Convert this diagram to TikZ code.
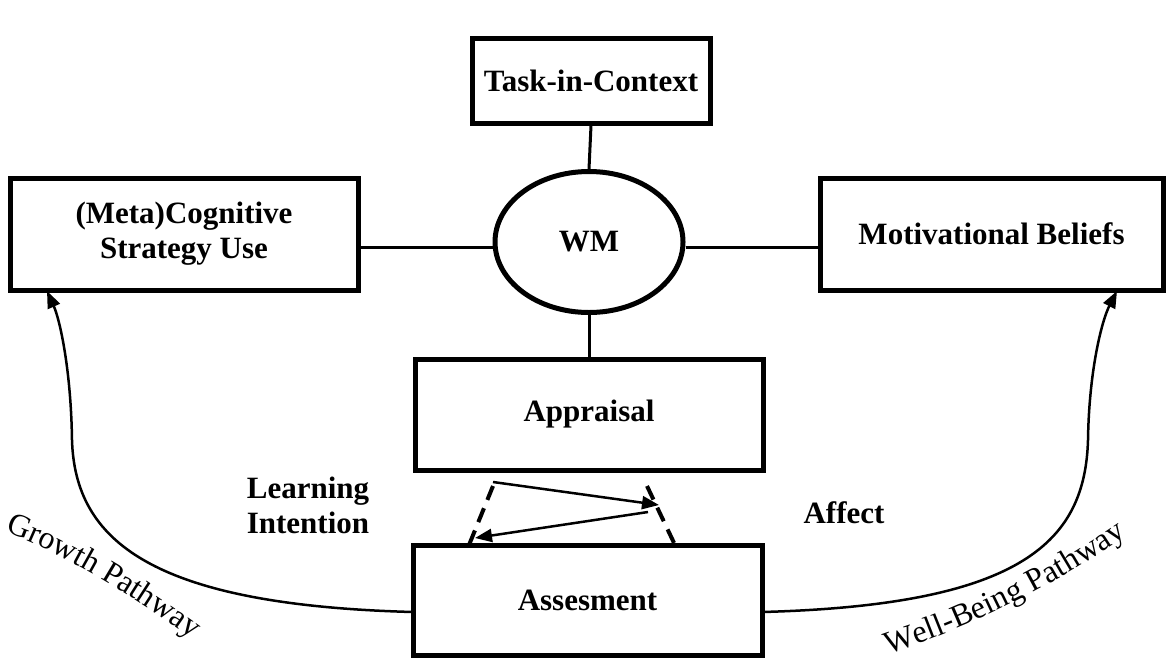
\documentclass[tikz,border=0pt]{standalone}
\usepackage{fontspec}
\setmainfont{Liberation Serif}
\usetikzlibrary{arrows.meta,decorations.text,shapes.geometric}
\begin{document}
\begin{tikzpicture}[x=1pt,y=-1pt,
  lbl/.style={font=\fontsize{31}{35}\selectfont\bfseries,align=center},
  box/.style={draw,line width=5pt,rectangle,inner sep=0pt,lbl},
  link/.style={line width=3pt},
  tipline/.style={line width=2.5pt,-{Triangle[length=17pt,width=13pt]}},
  dashline/.style={line width=4pt,dash pattern=on 15pt off 9pt},
  path text/.style={decorate,decoration={text along path,text align=left,
     text={|\fontsize{32}{34}\selectfont|#1}}}]
\useasboundingbox (0,0) rectangle (1166,664);
\fill[white] (0,0) rectangle (1166,664);

\node[box,minimum width=238pt,minimum height=85pt] (task) at (591,80.5) {Task-in-Context};
\node[box,minimum width=348pt,minimum height=112pt] (left) at (184,234) {(Meta)Cognitive\\Strategy Use};
\node[box,minimum width=343pt,minimum height=112pt] (right) at (991.5,234) {Motivational Beliefs};
\node[draw,line width=5pt,ellipse,inner sep=0pt,minimum width=188pt,minimum height=141pt,lbl] (wm) at (589,242) {WM};
\node[box,minimum width=348pt,minimum height=111pt] (appr) at (589,414.5) {Appraisal};
\node[box,minimum width=349pt,minimum height=110pt] (asse) at (587.5,600) {Assesment};

\node[lbl] (learn) at (308,505) {Learning\\Intention};
\node[lbl] (affect) at (844,513) {Affect};

\coordinate (hl) at (0,247);
\draw[link] (task.south) -- (wm.north);
\draw[link] (wm.south) -- (appr.north);
\draw[link] (left.east |- hl) -- (wm.west |- hl);
\draw[link] (wm.east |- hl) -- (right.west |- hl);

% arrows between Appraisal and Assessment
\coordinate (a1s) at (493,482);
\coordinate (a1e) at (659,505);
\coordinate (a2s) at (648,512);
\coordinate (a2e) at (475,538);
\coordinate (d1s) at (493,486);
\coordinate (d1e) at (469,545);
\coordinate (d2s) at (647,486);
\coordinate (d2e) at (675,545);
\draw[dashline] (d1s) -- (d1e);
\draw[dashline] (d2s) -- (d2e);
\draw[tipline] (a1s) -- (a1e);
\draw[tipline] (a2s) -- (a2e);

% pathways
\coordinate (gl) at (413,612);
\coordinate (gr) at (762,612);
\coordinate (lt) at (47,291);
\coordinate (rt) at (1117,291);
\draw[tipline] (gl) .. controls (150,605) and (75,540) .. (72,440)
   .. controls (71,370) and (60,320) .. (lt);
\draw[tipline] (gr) .. controls (1025,605) and (1085,540) .. (1088,440)
   .. controls (1089,370) and (1102,320) .. (rt);

\path[path text={Growth Pathway}] (5,532) .. controls (50,548) and (120,585) .. (205,648);
\path[path text={Well-Being Pathway}] (888,654) .. controls (968,628) and (1064,584) .. (1165,508);
\end{tikzpicture}
\end{document}
